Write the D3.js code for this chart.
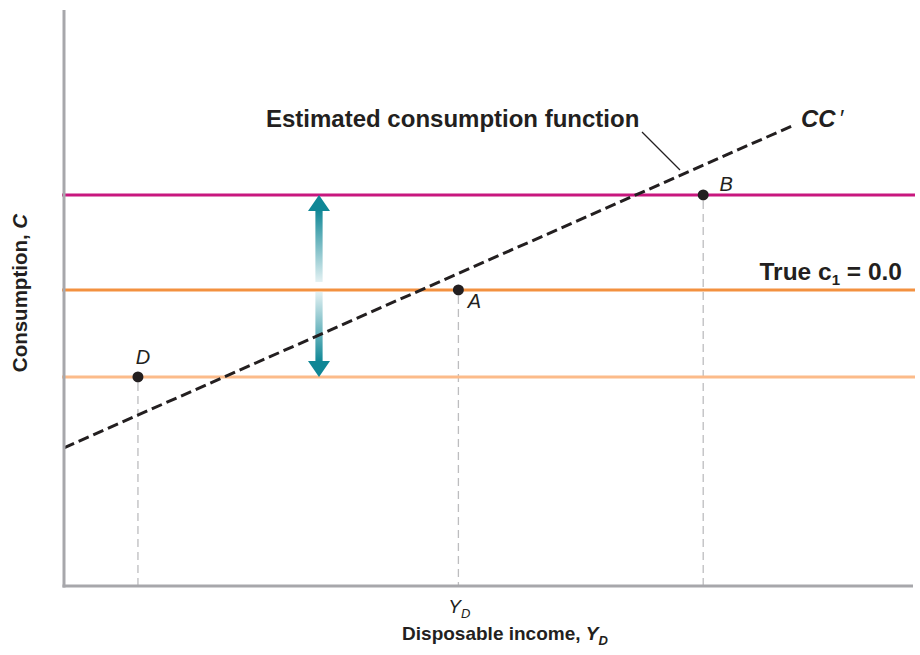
<!DOCTYPE html>
<html>
<head>
<meta charset="utf-8">
<script src="https://cdn.jsdelivr.net/npm/d3@7"></script>
<style>
  body { margin: 0; background: #fff; }
  svg text { font-family: 'Liberation Sans', Arial, Helvetica, sans-serif; fill: #231f20; }
</style>
</head>
<body>
<div id="chart"></div>
<script>
// data (arbitrary 0-100 units)
const levelNames = ['high', 'true', 'low']
const levelValues = [67.9, 51.4, 36.3]

const pointLabels = ['D', 'A', 'B']
const pointIncome = [8.7, 46.4, 75.2]
const pointConsumption = [36.3, 51.4, 67.9]

const ccIncome = [0, 86]
const ccConsumption = [24.0, 80.1]

const xTickValues = [46.4]
const xTickLabels = ['Y|D']

const arrowIncome = 30
const arrowFrom = 67.9
const arrowTo = 36.3

const levelColors = { high: '#c8177e', true: '#f39140', low: '#fcbb8a' }

const width = 920
const height = 655

const x = d3.scaleLinear().domain([0, 100]).range([64, 914])
const y = d3.scaleLinear().domain([0, 100]).range([586, 10])

const svg = d3.select('#chart')
  .append('svg')
  .attr('width', width)
  .attr('height', height)

const defs = svg.append('defs')
function fadeGrad (id, topColor, bottomColor) {
  const g = defs.append('linearGradient')
    .attr('id', id)
    .attr('x1', 0).attr('y1', 0).attr('x2', 0).attr('y2', 1)
  g.append('stop').attr('offset', '0%').attr('stop-color', topColor)
  g.append('stop').attr('offset', '100%').attr('stop-color', bottomColor)
}
fadeGrad('fadeDown', '#0f8796', '#e3f1f3')
fadeGrad('fadeUp', '#e3f1f3', '#0f8796')

// dashed drop lines from points
pointLabels.forEach((p, i) => {
  svg.append('line')
    .attr('x1', x(pointIncome[i])).attr('x2', x(pointIncome[i]))
    .attr('y1', y(pointConsumption[i]) + 6).attr('y2', y(0))
    .attr('stroke', '#bdbdbf')
    .attr('stroke-width', 1.3)
    .attr('stroke-dasharray', '8,5')
})

// horizontal consumption levels
levelNames.forEach((name, i) => {
  svg.append('line')
    .attr('x1', x(0) - 2).attr('x2', x(100) + 1)
    .attr('y1', y(levelValues[i])).attr('y2', y(levelValues[i]))
    .attr('stroke', levelColors[name])
    .attr('stroke-width', 3)
})

// double arrow
const ax = x(arrowIncome)
const yTop = y(arrowFrom)
const yBot = y(arrowTo)
const yMid = y(levelValues[1])
const headH = 16
const headW = 11
const shaftW = 3.6
svg.append('rect')
  .attr('x', ax - shaftW).attr('width', shaftW * 2)
  .attr('y', yTop + headH - 1).attr('height', (yMid - 8) - (yTop + headH - 1))
  .attr('fill', 'url(#fadeDown)')
svg.append('rect')
  .attr('x', ax - shaftW).attr('width', shaftW * 2)
  .attr('y', yMid + 2).attr('height', (yBot - headH + 1) - (yMid + 2))
  .attr('fill', 'url(#fadeUp)')
svg.append('path')
  .attr('d', `M${ax},${yTop} L${ax + headW},${yTop + headH} L${ax - headW},${yTop + headH} Z`)
  .attr('fill', '#0f8796')
svg.append('path')
  .attr('d', `M${ax},${yBot} L${ax + headW},${yBot - headH} L${ax - headW},${yBot - headH} Z`)
  .attr('fill', '#0f8796')

// estimated consumption function CC'
const line = d3.line()
  .x(d => x(d[0]))
  .y(d => y(d[1]))
svg.append('path')
  .datum(ccIncome.map((v, i) => [v, ccConsumption[i]]))
  .attr('fill', 'none')
  .attr('stroke', '#231f20')
  .attr('stroke-width', 3)
  .attr('stroke-dasharray', '11,5')
  .attr('d', line)

// axes
svg.append('line')
  .attr('x1', x(0)).attr('x2', x(0))
  .attr('y1', y(100)).attr('y2', y(0) + 1.5)
  .attr('stroke', '#a7a7ab').attr('stroke-width', 3)
svg.append('line')
  .attr('x1', x(0) - 1.5).attr('x2', x(100) - 1)
  .attr('y1', y(0)).attr('y2', y(0))
  .attr('stroke', '#a7a7ab').attr('stroke-width', 3)

// points
pointLabels.forEach((p, i) => {
  svg.append('circle')
    .attr('cx', x(pointIncome[i]))
    .attr('cy', y(pointConsumption[i]))
    .attr('r', 5.5)
    .attr('fill', '#231f20')
})
const labelOffsets = { D: [5, -13], A: [16, 18], B: [23, -4] }
pointLabels.forEach((p, i) => {
  svg.append('text')
    .attr('x', x(pointIncome[i]) + labelOffsets[p][0])
    .attr('y', y(pointConsumption[i]) + labelOffsets[p][1])
    .attr('text-anchor', 'middle')
    .attr('font-size', 20)
    .attr('font-style', 'italic')
    .text(p)
})

// x tick labels with subscript
xTickLabels.forEach((t, i) => {
  const parts = t.split('|')
  const tx = svg.append('text')
    .attr('x', x(xTickValues[i]) + 1)
    .attr('y', 613)
    .attr('text-anchor', 'middle')
    .attr('font-size', 19)
    .attr('font-style', 'italic')
  tx.append('tspan').text(parts[0])
  tx.append('tspan').attr('dy', 5).attr('font-size', 13).text(parts[1])
})

// axis titles
const xt = svg.append('text')
  .attr('x', 505)
  .attr('y', 640)
  .attr('text-anchor', 'middle')
  .attr('font-size', 19)
  .attr('font-weight', 'bold')
xt.append('tspan').text('Disposable income, ')
xt.append('tspan').attr('font-style', 'italic').text('Y')
xt.append('tspan').attr('font-style', 'italic').attr('dy', 5).attr('font-size', 13).text('D')

const yt = svg.append('text')
  .attr('transform', 'translate(27,293) rotate(-90)')
  .attr('text-anchor', 'middle')
  .attr('font-size', 20.5)
  .attr('font-weight', 'bold')
yt.append('tspan').text('Consumption, ')
yt.append('tspan').attr('font-style', 'italic').text('C')

// annotations
svg.append('text')
  .attr('x', 266)
  .attr('y', 127)
  .attr('font-size', 24)
  .attr('font-weight', 'bold')
  .text('Estimated consumption function')
svg.append('line')
  .attr('x1', 642).attr('y1', 132)
  .attr('x2', 680).attr('y2', 170)
  .attr('stroke', '#231f20')
  .attr('stroke-width', 1.2)

const cc = svg.append('text')
  .attr('x', 801)
  .attr('y', 127)
  .attr('font-size', 24)
  .attr('font-weight', 'bold')
  .attr('font-style', 'italic')
cc.append('tspan').text('CC')
cc.append('tspan').attr('dx', 3).attr('font-weight', 'normal').text('\u2032')

const tc = svg.append('text')
  .attr('x', 902)
  .attr('y', 280)
  .attr('text-anchor', 'end')
  .attr('font-size', 24.5)
  .attr('font-weight', 'bold')
tc.append('tspan').text('True ')
tc.append('tspan').text('c')
tc.append('tspan').attr('dy', 5).attr('font-size', 15).text('1')
tc.append('tspan').attr('dy', -5).text(' = 0.0')
</script>
</body>
</html>
